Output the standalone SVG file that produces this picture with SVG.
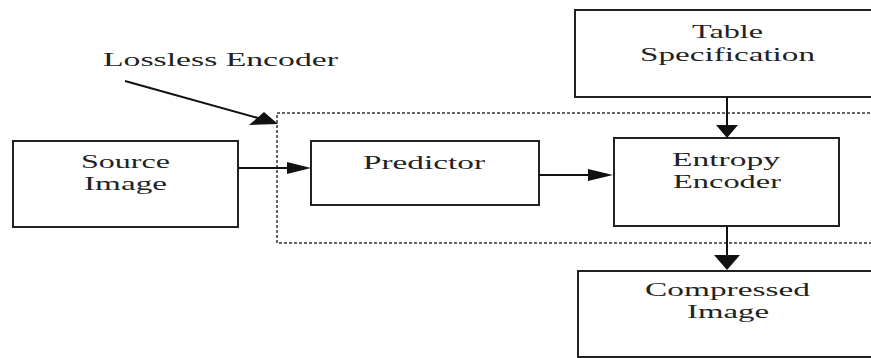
<svg xmlns="http://www.w3.org/2000/svg" width="871" height="358" viewBox="0 0 871 358">
<defs>
<style>
.box{fill:#fff;stroke:#222;stroke-width:2}
.lbl{font-family:"Liberation Serif",serif;font-size:18px;fill:#222}
.ln{stroke:#111;stroke-width:2;fill:none}
.ah{fill:#111}
.dot{fill:none;stroke:#333;stroke-width:1.5;stroke-dasharray:3 2}
</style>
</defs>
<rect width="871" height="358" fill="#fff"/>
<g id="lossless-encoder-boundary">
<rect class="dot" x="277" y="113" width="620" height="130"/>
<text class="lbl" x="103" y="66" textLength="235" lengthAdjust="spacingAndGlyphs">Lossless Encoder</text>
</g>
<g id="source-image">
<rect class="box" x="13" y="141" width="225" height="86"/>
<text class="lbl" x="81" y="168" textLength="89" lengthAdjust="spacingAndGlyphs">Source</text>
<text class="lbl" x="84" y="190" textLength="83" lengthAdjust="spacingAndGlyphs">Image</text>
</g>
<g id="predictor">
<rect class="box" x="311" y="141" width="228" height="64"/>
<text class="lbl" x="363" y="169" textLength="122" lengthAdjust="spacingAndGlyphs">Predictor</text>
</g>
<g id="table-specification">
<rect class="box" x="575" y="10" width="320" height="87"/>
<text class="lbl" x="692" y="38" textLength="71" lengthAdjust="spacingAndGlyphs">Table</text>
<text class="lbl" x="640" y="61" textLength="175" lengthAdjust="spacingAndGlyphs">Specification</text>
</g>
<g id="entropy-encoder">
<rect class="box" x="614" y="138" width="225" height="88"/>
<text class="lbl" x="672" y="166" textLength="108" lengthAdjust="spacingAndGlyphs">Entropy</text>
<text class="lbl" x="673" y="188" textLength="108" lengthAdjust="spacingAndGlyphs">Encoder</text>
</g>
<g id="compressed-image">
<rect class="box" x="578" y="271" width="320" height="86"/>
<text class="lbl" x="645" y="296" textLength="165" lengthAdjust="spacingAndGlyphs">Compressed</text>
<text class="lbl" x="687" y="318" textLength="82" lengthAdjust="spacingAndGlyphs">Image</text>
</g>
<g id="connectors">
<line class="ln" x1="125" y1="81" x2="258" y2="118"/>
<polygon class="ah" points="278,124 249,125 264,112"/>
<line class="ln" x1="238" y1="168" x2="290" y2="168"/>
<polygon class="ah" points="311,168 287,162 287,174"/>
<line class="ln" x1="539" y1="175" x2="592" y2="175"/>
<polygon class="ah" points="613,175 588,169 588,181"/>
<line class="ln" x1="727" y1="97" x2="727" y2="127"/>
<polygon class="ah" points="727,138 716,125 738,125"/>
<line class="ln" x1="727" y1="226" x2="727" y2="257"/>
<polygon class="ah" points="727,270 714,255 740,255"/>
</g>
</svg>
